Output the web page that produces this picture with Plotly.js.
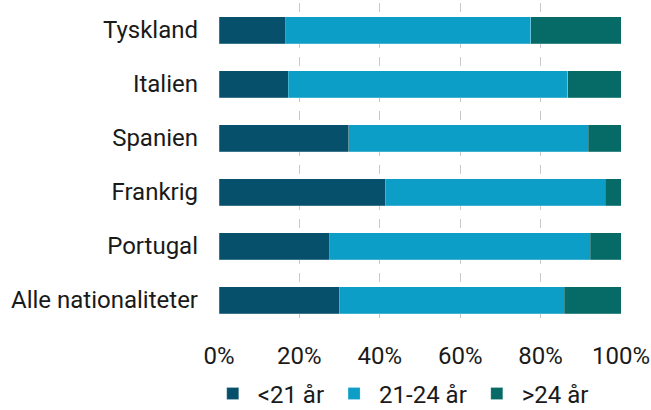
<!DOCTYPE html>
<html>
<head>
<meta charset="utf-8">
<script src="https://cdn.plot.ly/plotly-3.0.1.min.js"></script>
<style>html,body{margin:0;padding:0;background:#fff;overflow:hidden;}#chart{width:651px;height:440px;}</style>
</head>
<body>
<div id="chart"></div>
<script>
const categories = ["Tyskland", "Italien", "Spanien", "Frankrig", "Portugal", "Alle nationaliteter"];
const seriesNames = ["<21 år", "21-24 år", ">24 år"];
const under21 = [16.6, 17.2, 32.3, 41.3, 27.5, 29.9];
const from21to24 = [60.9, 69.5, 59.6, 54.8, 64.9, 56.0];
const over24 = [22.5, 13.3, 8.1, 3.9, 7.6, 14.1];
const tickValues = [0, 20, 40, 60, 80, 100];
const colors = ["#07506c", "#0c9ec6", "#066a66"];

const seriesValues = [under21, from21to24, over24];
const traces = seriesValues.map((vals, i) => ({
  type: "bar",
  orientation: "h",
  name: seriesNames[i],
  y: categories,
  x: vals,
  marker: {color: colors[i], line: {width: 0.6, color: "rgba(255,255,255,0.35)"}},
  hoverinfo: "none"
}));

const font = {family: "Roboto, 'DejaVu Sans', sans-serif", size: 24, color: "#1a1a1a"};

const layout = {
  width: 651,
  height: 440,
  barmode: "stack",
  bargap: 0.5,
  margin: {l: 219, r: 30, t: 3, b: 113, pad: 0},
  paper_bgcolor: "#ffffff",
  plot_bgcolor: "#ffffff",
  font: font,
  showlegend: true,
  legend: {
    orientation: "h",
    x: -0.028,
    xanchor: "left",
    y: -0.137,
    yanchor: "top",
    font: {family: font.family, size: 24, color: "#1a1a1a"},
    traceorder: "normal",
    itemwidth: 40,
    bgcolor: "rgba(0,0,0,0)"
  },
  xaxis: {
    range: [0, 100],
    tickvals: tickValues,
    ticktext: tickValues.map(v => v + "%"),
    showgrid: true,
    gridcolor: "#c8c8c8",
    griddash: "dash",
    gridwidth: 1,
    zeroline: false,
    showline: false,
    ticks: "",
    ticklabelstandoff: 12,
    tickfont: {family: font.family, size: 24, color: "#1a1a1a"},
    fixedrange: true
  },
  yaxis: {
    type: "category",
    categoryorder: "array",
    categoryarray: categories,
    autorange: "reversed",
    showgrid: false,
    zeroline: false,
    showline: false,
    ticks: "",
    ticklabelstandoff: 20,
    tickfont: {family: font.family, size: 24, color: "#1a1a1a"},
    fixedrange: true
  }
};

Plotly.newPlot("chart", traces, layout, {displayModeBar: false, staticPlot: true});
</script>
</body>
</html>
